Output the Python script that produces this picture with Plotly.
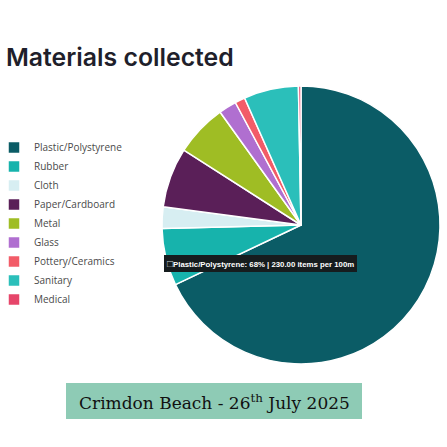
import plotly.graph_objects as go

# Items collected per 100 m of beach, by material
materials = ["Plastic/Polystyrene", "Rubber", "Cloth", "Paper/Cardboard", "Metal",
             "Glass", "Pottery/Ceramics", "Sanitary", "Medical"]
items_per_100m = [230.0, 22.5, 8.5, 23.5, 20.5, 7.0, 4.0, 21.5, 1.0]
slice_colors = ["#0b5c66", "#17b3ac", "#d7eef2", "#5a1f58", "#9fbd24",
                "#b06fd0", "#f25c68", "#2bbfba", "#e6466a"]

total = sum(items_per_100m)
W = H = 447

fig = go.Figure(go.Pie(
    labels=materials,
    values=items_per_100m,
    marker=dict(colors=slice_colors, line=dict(color="white", width=1.5)),
    sort=False,
    direction="clockwise",
    rotation=0,
    textinfo="none",
    hoverinfo="skip",
    domain=dict(x=[(301 - 139) / W, (301 + 139) / W],
                y=[(222 - 139) / H, (222 + 139) / H]),
))

# Hover-style label for the largest slice
top = items_per_100m[0]
tip = (f"<span style='color:#cfd8da;font-size:10px'>□</span><b>{materials[0]}: "
       f"{round(top / total * 100)}% | {top:.2f} items per 100m</b>")
fig.add_annotation(
    x=164 / W, y=1 - 263 / H, xref="paper", yref="paper",
    xanchor="left", yanchor="middle", showarrow=False,
    text=tip, font=dict(family="Liberation Sans", size=7.8, color="white"),
    bgcolor="#161c1e", bordercolor="#161c1e", borderpad=2,
)

# Title
fig.add_annotation(
    x=4 / W, y=1 - 57 / H, xref="paper", yref="paper",
    xanchor="left", yanchor="middle", showarrow=False,
    text="Materials collected",
    font=dict(family="Inter", size=24.8, weight=600, color="#1f1f2b"),
)

# Location / date banner
fig.add_shape(type="rect", xref="paper", yref="paper",
              x0=66 / W, x1=362 / W, y0=1 - 419 / H, y1=1 - 383 / H,
              fillcolor="#8ecbb5", line=dict(width=0), layer="below")
fig.add_annotation(
    x=214 / W, y=1 - 402 / H, xref="paper", yref="paper",
    xanchor="center", yanchor="middle", showarrow=False,
    text="Crimdon Beach - 26<sup>th</sup> July 2025",
    font=dict(family="DejaVu Serif", size=17, color="#111111"),
)

fig.update_layout(
    width=W, height=H,
    margin=dict(l=0, r=0, t=0, b=0, autoexpand=False),
    paper_bgcolor="white",
    showlegend=True,
    legend=dict(
        x=-6 / W, y=1 - 133 / H, xanchor="left", yanchor="top",
        font=dict(family="Open Sans", size=10, color="#4a4a4a"),
        itemwidth=30, tracegroupgap=0,
        bgcolor="rgba(0,0,0,0)",
    ),
)

fig.write_html("out.html")
